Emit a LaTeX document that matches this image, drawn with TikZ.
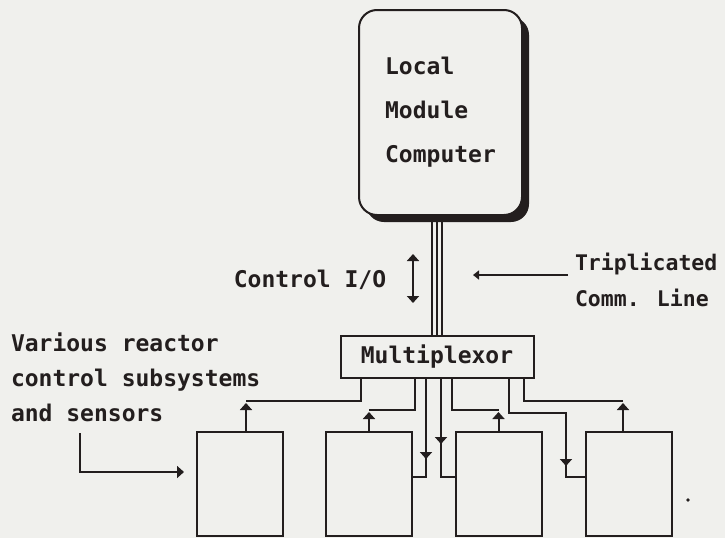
\documentclass[tikz,border=0pt]{standalone}
\usepackage{fontspec}
\newfontfamily\plotfont[BoldFont={DejaVu Sans Mono Bold}]{DejaVu Sans Mono}
\usetikzlibrary{arrows.meta,shadows,calc}
\definecolor{paper}{RGB}{240,240,237}
\definecolor{ink}{RGB}{35,30,30}

\begin{document}
\begin{tikzpicture}[x=1pt,y=-1pt,line width=2pt,color=ink,
  font={\plotfont\bfseries\fontsize{23}{35}\selectfont},
  arr/.style={-{Triangle[width=12pt,length=7pt]}},
  lmcbox/.style={draw,fill=paper,rounded corners=18pt,minimum width=163pt,minimum height=205pt,
    drop shadow={shadow xshift=7pt,shadow yshift=-7pt,opacity=1,fill=ink}},
  muxbox/.style={draw,fill=paper,minimum width=193pt,minimum height=42pt,inner sep=0pt},
  unit/.style={draw,fill=paper,minimum width=86pt,minimum height=104pt,inner sep=0pt},
  label/.style={inner sep=0pt,align=left}]
\fill[paper] (0,0) rectangle (725,538);
\useasboundingbox (0,0) rectangle (725,538);

% computer and multiplexor
\node[lmcbox,align=left,font={\plotfont\bfseries\fontsize{23}{44}\selectfont}] (lmc) at (440.5,112.5) {Local\\Module\\Computer};
\node[muxbox] (mux) at (437,357) {Multiplexor};
\foreach \dx in {-5,0,5}
  \draw[line width=1.3pt] ([xshift=\dx pt]mux.north) -- ([xshift=\dx pt]mux.north |- lmc.south);

% labels
\node[label] (ctl) at (310,280) {Control I/O};
\coordinate (ioA) at (413,254);
\coordinate (ioB) at (413,303);
\draw[{Triangle[width=12pt,length=7pt]}-{Triangle[width=12pt,length=7pt]}] (ioA) -- (ioB);
\node[label,anchor=west,font={\plotfont\bfseries\fontsize{21.5}{36}\selectfont}] (trip) at (574,280) {Triplicated\\Comm. Line};
\coordinate (tripTip) at (473,275);
\draw[-{Triangle[width=9pt,length=6pt]}] ([shift={(-6pt,5pt)}]trip.west) -- (tripTip);
\node[label,anchor=west] (var) at (10,377) {Various reactor\\control subsystems\\and sensors};

% subsystems
\node[unit] (sub1) at (240,484) {};
\node[unit] (sub2) at (369,484) {};
\node[unit] (sub3) at (498.5,484) {};
\node[unit] (sub4) at (628.5,484) {};
\coordinate (vtop) at (80,433);
\draw[arr] (vtop) |- ([shift={(-12pt,12pt)}]sub1.west);

% multiplexor ports
\foreach \n/\dx in {1/21.5,2/75.5,3/86.5,4/101.5,5/112.5,6/169.5,7/184.5}
  \coordinate (p\n) at ($(mux.south west)+(\dx,0)$);

\draw[arr] ([xshift=6pt]sub1.north) -- ++(0,-28);
\draw ([xshift=6pt]sub1.north) ++(0,-30) -| (p1);
\draw[arr] (sub2.north) -- ++(0,-19);
\draw (sub2.north) ++(0,-21) -| (p2);
\draw (p3) |- ([yshift=7pt]sub2.east);
\draw[arr] (p3) -- ++(0,80);
\draw (p4) |- ([yshift=7pt]sub3.west);
\draw[arr] (p4) -- ++(0,65);
\draw[arr] (sub3.north) -- ++(0,-19);
\draw (sub3.north) ++(0,-21) -| (p5);
\coordinate (k6) at ($(p6)+(57,34)$);
\draw (p6) |- (k6) |- ([yshift=7pt]sub4.west);
\draw[arr] (k6) -- ++(0,53);
\draw[arr] ([xshift=-5.5pt]sub4.north) -- ++(0,-28);
\draw ([xshift=-5.5pt]sub4.north) ++(0,-30) -| (p7);

\fill (688,500) circle (1.8pt);
\end{tikzpicture}
\end{document}
